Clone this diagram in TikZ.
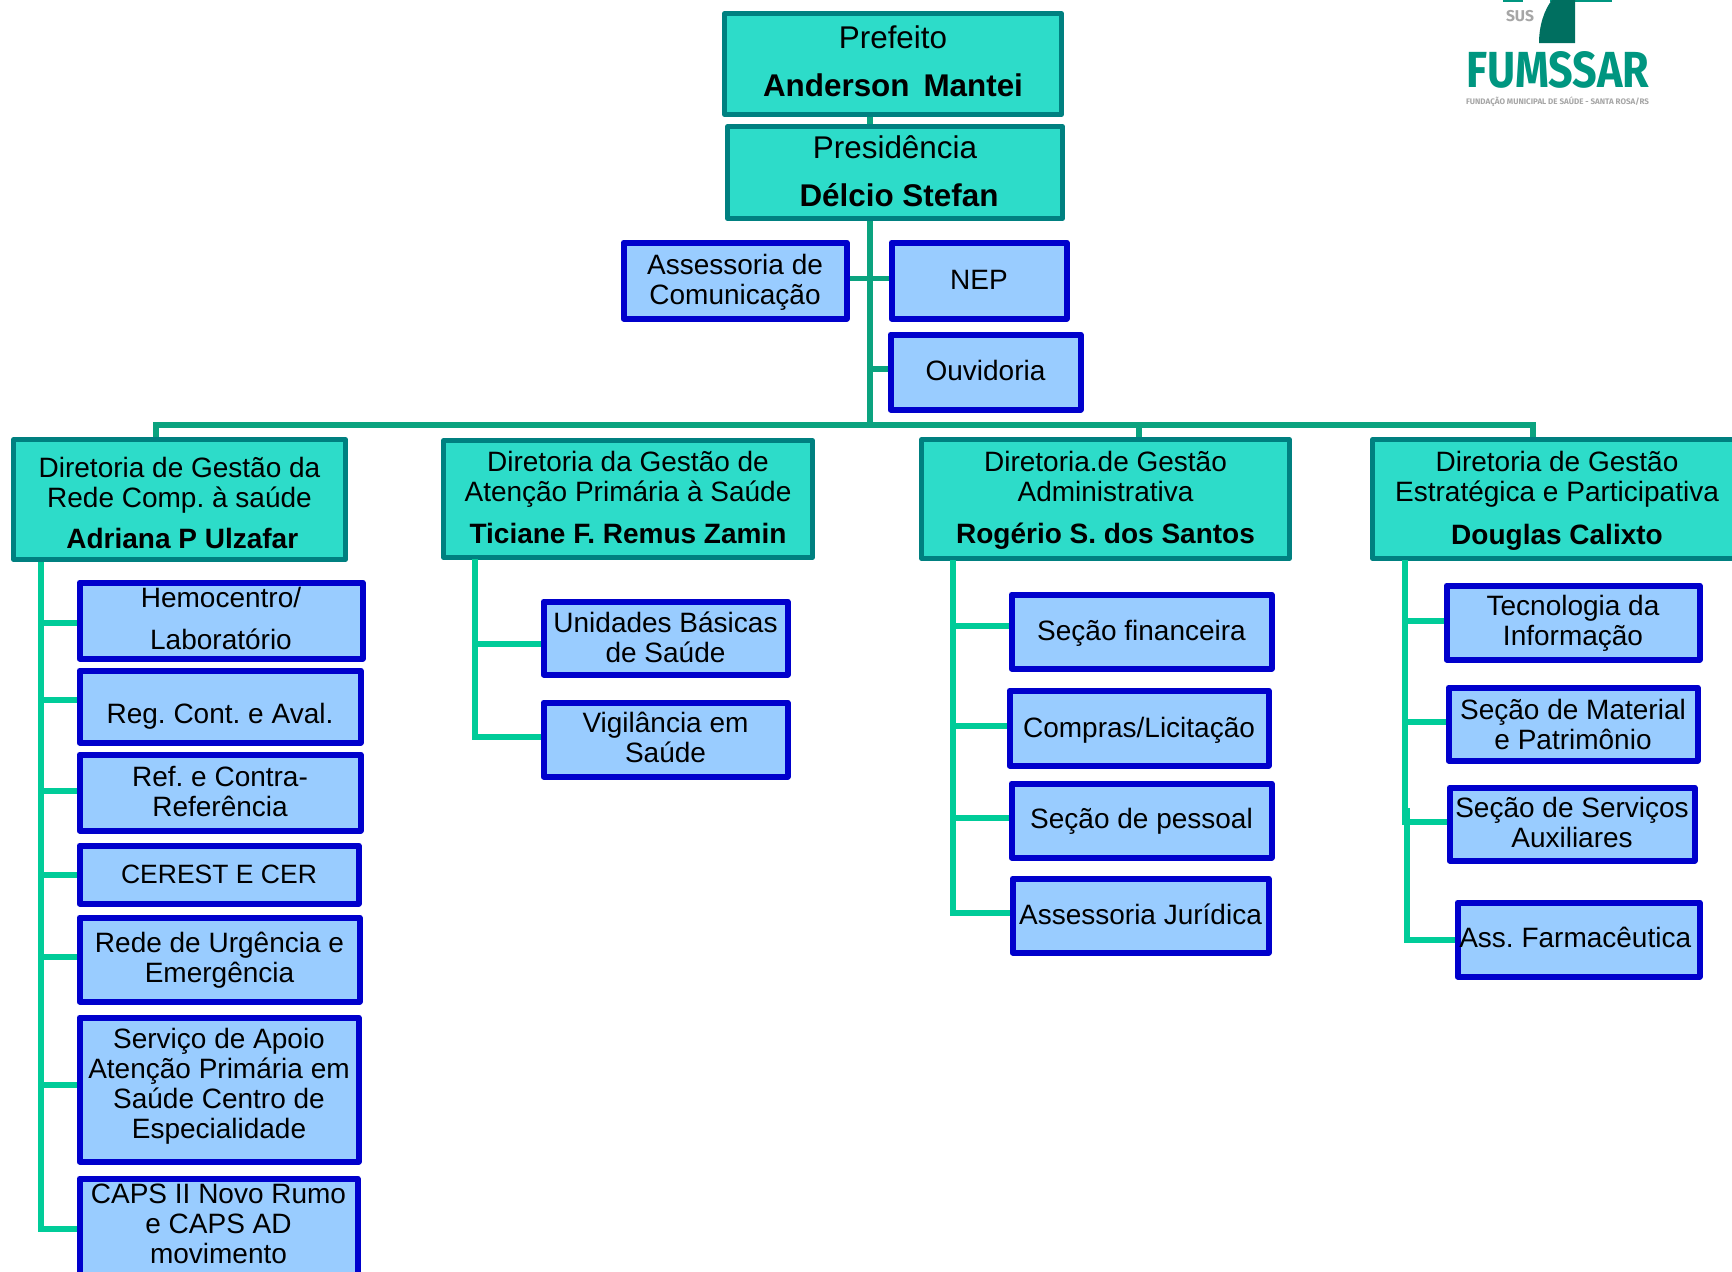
\documentclass[tikz,border=0pt]{standalone}
\usepackage{graphicx}
\usepackage{fontspec}
\setmainfont{Liberation Sans}
\newfontfamily\logofont{Fira Sans}
\frenchspacing
\definecolor{verdecaixa}{HTML}{2DDCC9}
\definecolor{verdeborda}{HTML}{008080}
\definecolor{azulcaixa}{HTML}{99CCFF}
\definecolor{azulborda}{HTML}{0000CC}
\definecolor{tronco}{HTML}{0BA37F}
\definecolor{ramo}{HTML}{00CC99}
\definecolor{logoverde}{HTML}{009680}
\definecolor{logoesc}{HTML}{006F60}
\definecolor{logocinza}{HTML}{A6A6A6}
\tikzset{
  dirbox/.style={draw=verdeborda, fill=verdecaixa, line width=2.2pt, line join=round, inner sep=0pt, align=center, font=\fontsize{14}{15}\selectfont},
  topbox/.style={dirbox, font=\fontsize{15.7}{24}\selectfont},
  setorbox/.style={draw=azulborda, fill=azulcaixa, line width=3pt, line join=round, inner sep=0pt, align=center, font=\fontsize{14}{15}\selectfont},
  colbox/.style={setorbox, xshift=-0.25pt, yshift=0.25pt},
  troncoline/.style={draw=tronco, line width=2.6pt},
  ramoline/.style={draw=ramo, line width=3pt}
}
\begin{document}
\begin{tikzpicture}[x=0.5pt, y=-0.5pt]
  \clip (0,0) rectangle (1732,1271);
  \fill[white] (0,0) rectangle (1732,1271);
  % topo
  \node[topbox, minimum width=168.5pt, minimum height=50.5pt, text depth=2.4pt] (prefeito) at (893,64) {Prefeito\\\textbf{Anderson\, Mantei}};
  \node[topbox, minimum width=167.5pt, minimum height=46pt, text depth=1.3pt] (presid) at (895,172.5) {Presidência\\\hspace{4pt}\textbf{Délcio Stefan}};
  \node[setorbox, minimum width=111.5pt, minimum height=38pt, text depth=0.7pt] (assess) at (735,280.5) {Assessoria de\\Comunicação};
  \node[setorbox, minimum width=87.5pt, minimum height=38pt, text depth=1.1pt] (nep) at (979,280.5) {NEP};
  \node[setorbox, minimum width=95pt, minimum height=37.5pt, text depth=1.3pt] (ouvidoria) at (985.5,372) {Ouvidoria};
  % diretorias
  \node[dirbox, minimum width=166pt, minimum height=60pt] (dirrede) at (179.5,499.5) {\rule{0pt}{13.5pt}Diretoria de Gestão da\\Rede Comp. à saúde\\[5.5pt]\hspace{2.8pt}\textbf{Adriana P Ulzafar}};
  \node[dirbox, minimum width=184.5pt, minimum height=58.5pt, text depth=2pt] (dirap) at (628,499) {Diretoria da Gestão de\\Atenção Primária à Saúde\\[6pt]\textbf{Ticiane F. Remus Zamin}};
  \node[dirbox, minimum width=184pt, minimum height=59.5pt, text depth=1.3pt] (diradm) at (1105.5,499) {Diretoria.de Gestão\\Administrativa\\[6pt]\textbf{Rogério S. dos Santos}};
  \node[dirbox, minimum width=184.5pt, minimum height=59.5pt, text depth=0.7pt] (direst) at (1557,499) {Diretoria de Gestão\\Estratégica e Participativa\\[6.5pt]\textbf{Douglas Calixto}};
  % coluna da rede
  \node[colbox, minimum width=141.5pt, minimum height=38pt, text depth=1.8pt] (hemo) at (221.5,621) {Hemocentro/\\[6pt]Laboratório};
  \node[colbox, minimum width=140.5pt, minimum height=36pt] (reg) at (220.5,707) {\mbox{}\\[4.4pt]Reg. Cont. e Aval.};
  \node[colbox, minimum width=140.5pt, minimum height=38pt, text depth=1.3pt] (ref) at (220.5,793) {Ref. e Contra-\\Referência};
  \node[colbox, minimum width=139.5pt, minimum height=29pt, font=\fontsize{13.25}{15}\selectfont] (cerest) at (219.5,875) {CEREST E CER};
  \node[colbox, minimum width=140pt, minimum height=42pt, text depth=1.8pt] (rede) at (220,960) {Rede de Urgência e\\Emergência};
  \node[colbox, minimum width=139.5pt, minimum height=72pt, text depth=6.2pt] (servico) at (219.5,1090) {Serviço de Apoio\\Atenção Primária em\\Saúde Centro de\\Especialidade};
  \node[colbox, minimum width=139pt, minimum height=48pt, text depth=3pt] (caps) at (219,1227) {CAPS II Novo Rumo\\e CAPS AD\\movimento};
  % coluna da atencao primaria
  \node[colbox, minimum width=122pt, minimum height=36.5pt, text depth=1.3pt] (unid) at (666,638.5) {Unidades Básicas\\de Saúde};
  \node[colbox, minimum width=122pt, minimum height=37pt, text depth=1.8pt] (vigil) at (666,740) {Vigilância em\\Saúde};
  % coluna administrativa
  \node[colbox, minimum width=130pt, minimum height=37pt, text depth=0.7pt] (fin) at (1142,632) {Seção financeira};
  \node[colbox, minimum width=129.5pt, minimum height=37.5pt, text depth=0.7pt] (compras) at (1139.5,728.5) {Compras/Licitação};
  \node[colbox, minimum width=130pt, minimum height=37pt, text depth=1.8pt] (pessoal) at (1142,821) {Seção de pessoal};
  \node[colbox, minimum width=128pt, minimum height=37pt, text depth=1.8pt] (jurid) at (1141,916) {Assessoria Jurídica};
  % coluna estrategica
  \node[colbox, minimum width=126.5pt, minimum height=37pt, text depth=1.9pt] (tec) at (1573.5,623) {Tecnologia da\\Informação};
  \node[colbox, minimum width=124.5pt, minimum height=36.5pt] (mat) at (1573.5,724.5) {Seção de Material\\e Patrimônio};
  \node[colbox, minimum width=122.5pt, minimum height=36.5pt, text depth=1.3pt] (serv) at (1572.5,824.5) {Seção de Serviços\\Auxiliares};
  \node[colbox, minimum width=121pt, minimum height=37pt, text depth=1.8pt] (farm) at (1579,940) {Ass. Farmacêutica\hspace*{3.3pt}};
  % pontos livres
  \coordinate (eixo) at (870,425);
  \coordinate (busa) at (156,425);
  \coordinate (busc) at (1139,425);
  \coordinate (busd) at (1533,425);
  \coordinate (spinea) at (41,562);
  \coordinate (spineb) at (475,559);
  \coordinate (spinec) at (953,560);
  \coordinate (spined) at (1405,560);
  \coordinate (spinee) at (1407,808);
  % tronco
  \draw[troncoline] (prefeito.south -| eixo) -- (presid.north -| eixo);
  \draw[troncoline] (presid.south -| eixo) -- (eixo);
  \draw[troncoline] ([yshift=1pt]assess.east) -- ([yshift=1pt]nep.west);
  \draw[troncoline] ([yshift=1.5pt]ouvidoria.west) -| (eixo);
  \draw[troncoline] (dirrede.north -| busa) |- (busd) -- (direst.north -| busd);
  \draw[troncoline] (busc) -- (diradm.north -| busc);
  % ramos
  \draw[ramoline] ([yshift=-1pt]hemo.west) -| (spinea);
  \draw[ramoline] ([yshift=3.5pt]reg.west) -| (spinea);
  \draw[ramoline] ([yshift=1pt]ref.west) -| (spinea);
  \draw[ramoline] (cerest.west) -| (spinea);
  \draw[ramoline] ([yshift=1.5pt]rede.west) -| (spinea);
  \draw[ramoline] ([yshift=2.5pt]servico.west) -| (spinea);
  \draw[ramoline] ([yshift=-1pt]caps.west) -| (spinea);
  \draw[ramoline] ([yshift=-3pt]unid.west) -| (spineb);
  \draw[ramoline] ([yshift=1.5pt]vigil.west) -| (spineb);
  \draw[ramoline] ([yshift=3pt]fin.west) -| (spinec);
  \draw[ramoline] ([yshift=1pt]compras.west) -| (spinec);
  \draw[ramoline] ([yshift=1.5pt]pessoal.west) -| (spinec);
  \draw[ramoline] ([yshift=1.5pt]jurid.west) -| (spinec);
  \draw[ramoline] ([yshift=1pt]tec.west) -| (spined);
  \draw[ramoline] ([yshift=1pt]mat.west) -| (spined);
  \draw[ramoline] ([yshift=1pt]serv.west) -| (spined);
  \draw[ramoline] (farm.west) -| (spinee);
  % logo
  \fill[logoverde] (1503,0) rectangle (1523,2);
  \fill[logoverde] (1550,0) rectangle (1612,2);
  \fill[logoesc] (1539,43) -- (1575,43) -- (1575,0) -- (1552,0) .. controls (1544,10) and (1539,26) .. (1539,43);
  \node[inner sep=0pt, text=logocinza] (logosus) at (1520,16) {\resizebox{14pt}{!}{\logofont\bfseries SUS}};
  \node[inner sep=0pt, text=logoverde] (logonome) at (1557.5,70) {\resizebox{91.5pt}{18pt}{\logofont\bfseries FUMSSAR}};
  \node[inner sep=0pt, text=logocinza] (logosub) at (1557.5,102) {\resizebox{91.5pt}{!}{\logofont\bfseries FUNDAÇÃO MUNICIPAL DE SAÚDE - SANTA ROSA/RS}};
\end{tikzpicture}
\end{document}
